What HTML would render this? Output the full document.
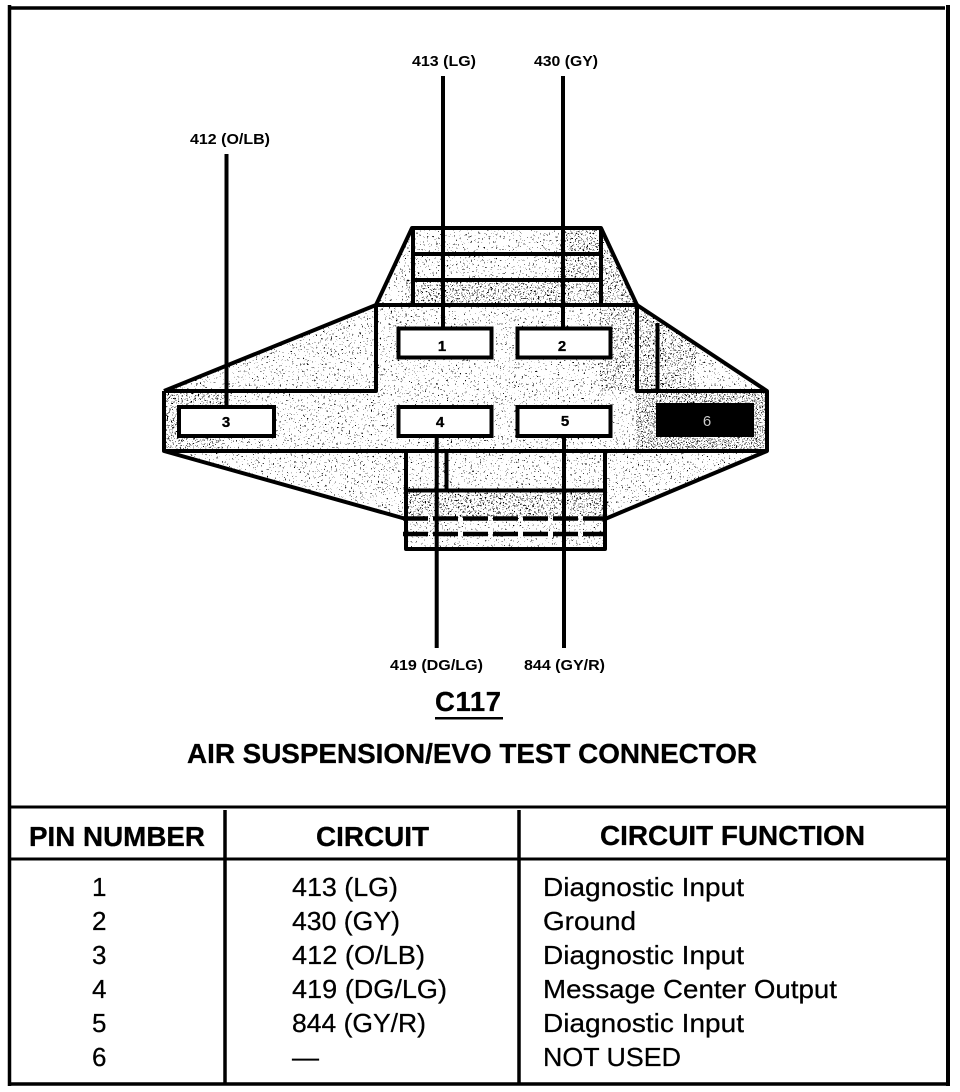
<!DOCTYPE html>
<html lang="en">
<head>
<meta charset="utf-8">
<title>C117 Air Suspension/EVO Test Connector</title>
<style>
html,body{margin:0;padding:0;background:#fff;width:960px;height:1092px;overflow:hidden}
svg{display:block}
text{font-family:"Liberation Sans",Arial,sans-serif;fill:#000}
.s{font-size:15px;font-weight:bold}
.h{font-size:27.500px;font-weight:bold;stroke:#000;stroke-width:.3px}
.r{font-size:26px;stroke:#000;stroke-width:.25px}
.n{font-size:15px;font-weight:bold;text-anchor:middle;stroke:#000;stroke-width:.3px}
</style>
</head>
<body>
<svg width="960" height="1092" viewBox="0 0 960 1092" xmlns="http://www.w3.org/2000/svg">
<defs>
<filter id="light" x="0" y="0" width="100%" height="100%" color-interpolation-filters="sRGB">
<feTurbulence type="fractalNoise" baseFrequency="0.55" numOctaves="3" seed="4"/>
<feColorMatrix values="0 0 0 0 0 0 0 0 0 0 0 0 0 0 0 1 0 0 0 0"/>
<feComponentTransfer><feFuncA type="linear" slope="30" intercept="-20.700"/></feComponentTransfer>
</filter>
<filter id="med" x="0" y="0" width="100%" height="100%" color-interpolation-filters="sRGB">
<feTurbulence type="fractalNoise" baseFrequency="0.6" numOctaves="3" seed="12"/>
<feColorMatrix values="0 0 0 0 0 0 0 0 0 0 0 0 0 0 0 1 0 0 0 0"/>
<feComponentTransfer><feFuncA type="linear" slope="30" intercept="-19.500"/></feComponentTransfer>
</filter>
<filter id="dense" x="0" y="0" width="100%" height="100%" color-interpolation-filters="sRGB">
<feTurbulence type="fractalNoise" baseFrequency="0.8" numOctaves="2" seed="9"/>
<feColorMatrix values="0 0 0 0 0 0 0 0 0 0 0 0 0 0 0 1 0 0 0 0"/>
<feComponentTransfer><feFuncA type="linear" slope="30" intercept="-18.300"/></feComponentTransfer>
</filter>
<clipPath id="body"><polygon points="376,305 412,228 601,228 637,305 767,391 767,451 605,519 605,549 406,549 406,519 164,451 164,391"/></clipPath>
</defs>

<!-- stipple -->
<g clip-path="url(#body)">
<rect x="160" y="225" width="610" height="327" fill="#000" filter="url(#light)"/>
<rect x="636" y="391" width="132" height="60" fill="#000" filter="url(#dense)"/>
<rect x="406" y="280" width="230" height="25" fill="#000" filter="url(#med)"/>
<rect x="406" y="489" width="199" height="30" fill="#000" filter="url(#med)"/>
<rect x="560" y="228" width="80" height="52" fill="#000" filter="url(#med)"/>
<rect x="600" y="305" width="36" height="86" fill="#000" filter="url(#med)"/>
<rect x="636" y="305" width="60" height="86" fill="#000" filter="url(#med)"/>
<rect x="164" y="391" width="60" height="60" fill="#000" filter="url(#med)"/>
</g>

<!-- frame -->
<g stroke="#000" fill="none">
<path d="M9.500 5V1086" stroke-width="3.500"/>
<path d="M9 8H945" stroke-width="3.500"/>
<path d="M948 5V1086" stroke-width="4"/>
<path d="M9 807H947" stroke-width="3"/>
<path d="M9 859H947" stroke-width="3"/>
<path d="M9 1084H947" stroke-width="3.500"/>
<path d="M225 810V1084" stroke-width="3.500"/>
<path d="M519 810V1084" stroke-width="3.500"/>
</g>

<!-- connector outline -->
<g stroke="#000" fill="none" stroke-width="4" stroke-linejoin="round">
<polyline points="164,391 376,305 412,228 601,228 637,305 767,391 767,451 605,519"/>
<polyline points="406,519 164,451 164,391"/>
<path d="M164 451H767"/>
<path d="M164 391H376V305H637V391H767"/>
<path d="M413 228V305M601 228V305"/>
<path d="M413 254H601M413 280H601"/>
<path d="M406 451V549H605V451"/>
<path d="M406 490.500H605"/>
<path d="M446.500 451V490"/>
<path d="M657.500 323V391"/>
<path d="M403 518.500H605" stroke-dasharray="25 5" stroke-width="4.500"/>
<path d="M403 534H605" stroke-dasharray="25 5" stroke-width="4.500"/>
</g>

<!-- cavities -->
<g fill="#fff" stroke="#000" stroke-width="4">
<rect x="179" y="407" width="95" height="29"/>
<rect x="398.500" y="328.500" width="93" height="29"/>
<rect x="517.500" y="328.500" width="93" height="29"/>
<rect x="398.500" y="407" width="93" height="29"/>
<rect x="517.500" y="407" width="93" height="29"/>
</g>
<rect x="656" y="403" width="98" height="34" fill="#000"/>

<!-- wires -->
<g stroke="#000" stroke-width="4" fill="none">
<path d="M226.500 154V406"/>
<path d="M443 76V328"/>
<path d="M563 76V328"/>
<path d="M436.700 438V648"/>
<path d="M564 434V648"/>
</g>

<!-- pin numbers -->
<text class="n" x="226" y="427">3</text>
<text class="n" x="442" y="351">1</text>
<text class="n" x="562" y="351">2</text>
<text class="n" x="440" y="427">4</text>
<text class="n" x="565" y="426">5</text>
<text x="707" y="426" style="font-size:15px;text-anchor:middle;fill:#ccc">6</text>

<!-- wire labels -->
<text class="s" x="412" y="66" textLength="64" lengthAdjust="spacingAndGlyphs">413 (LG)</text>
<text class="s" x="534" y="66" textLength="64" lengthAdjust="spacingAndGlyphs">430 (GY)</text>
<text class="s" x="190" y="144" textLength="80" lengthAdjust="spacingAndGlyphs">412 (O/LB)</text>
<text class="s" x="390" y="670" textLength="93" lengthAdjust="spacingAndGlyphs">419 (DG/LG)</text>
<text class="s" x="524" y="670" textLength="81" lengthAdjust="spacingAndGlyphs">844 (GY/R)</text>

<!-- title -->
<text class="h" x="435" y="711" textLength="66" lengthAdjust="spacing">C117</text>
<rect x="435" y="717" width="68" height="2.500" fill="#000"/>
<text class="h" x="187" y="763" textLength="570" lengthAdjust="spacingAndGlyphs">AIR SUSPENSION/EVO TEST CONNECTOR</text>

<!-- table header -->
<text class="h" x="29" y="846" textLength="176" lengthAdjust="spacingAndGlyphs">PIN NUMBER</text>
<text class="h" x="316" y="846" textLength="113" lengthAdjust="spacingAndGlyphs">CIRCUIT</text>
<text class="h" x="600" y="845" textLength="265" lengthAdjust="spacingAndGlyphs">CIRCUIT FUNCTION</text>

<!-- table rows -->
<g>
<text class="r" x="92" y="896">1</text>
<text class="r" x="92" y="930">2</text>
<text class="r" x="92" y="964">3</text>
<text class="r" x="92" y="998">4</text>
<text class="r" x="92" y="1032">5</text>
<text class="r" x="92" y="1066">6</text>

<text class="r" x="292" y="896" textLength="106" lengthAdjust="spacingAndGlyphs">413 (LG)</text>
<text class="r" x="292" y="930" textLength="108" lengthAdjust="spacingAndGlyphs">430 (GY)</text>
<text class="r" x="292" y="964" textLength="133" lengthAdjust="spacingAndGlyphs">412 (O/LB)</text>
<text class="r" x="292" y="998" textLength="155" lengthAdjust="spacingAndGlyphs">419 (DG/LG)</text>
<text class="r" x="292" y="1032" textLength="134" lengthAdjust="spacingAndGlyphs">844 (GY/R)</text>
<text class="r" x="292" y="1066" textLength="27" lengthAdjust="spacingAndGlyphs">—</text>

<text class="r" x="543" y="896" textLength="201" lengthAdjust="spacingAndGlyphs">Diagnostic Input</text>
<text class="r" x="543" y="930" textLength="93" lengthAdjust="spacingAndGlyphs">Ground</text>
<text class="r" x="543" y="964" textLength="201" lengthAdjust="spacingAndGlyphs">Diagnostic Input</text>
<text class="r" x="543" y="998" textLength="294" lengthAdjust="spacingAndGlyphs">Message Center Output</text>
<text class="r" x="543" y="1032" textLength="201" lengthAdjust="spacingAndGlyphs">Diagnostic Input</text>
<text class="r" x="543" y="1066" textLength="138" lengthAdjust="spacingAndGlyphs">NOT USED</text>
</g>
</svg>
</body>
</html>
